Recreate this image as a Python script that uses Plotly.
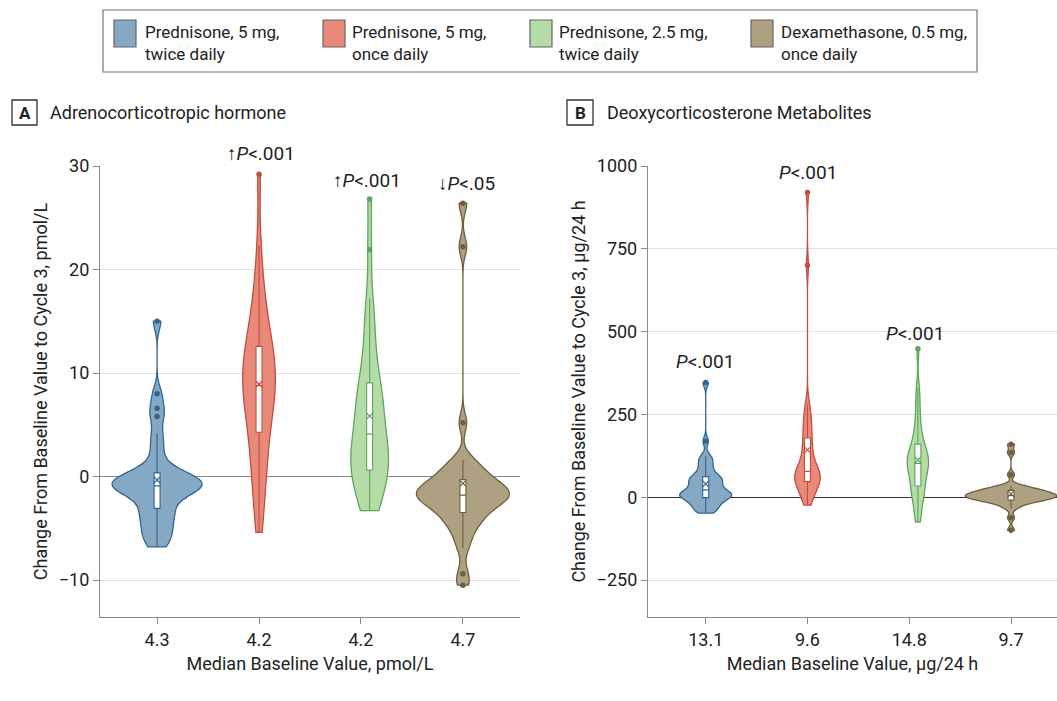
import numpy as np
import plotly.graph_objects as go

W, H = 1057, 701
FONT = "Roboto, 'Noto Sans', sans-serif"

# ---------------- data ----------------
group_names = ["Prednisone, 5 mg,<br>twice daily", "Prednisone, 5 mg,<br>once daily",
               "Prednisone, 2.5 mg,<br>twice daily", "Dexamethasone, 0.5 mg,<br>once daily"]
acth_ticklabels = ["4.3", "4.2", "4.2", "4.7"]
doc_ticklabels = ["13.1", "9.6", "14.8", "9.7"]

# Panel A: ACTH change, pmol/L
acth_pred5_bid = [-6.8, -6.2, -5.7, -5.2, -4.7, -4.2, -3.7, -3.3, -3.0, -2.4, -1.9, -1.6, -1.4, -1.2, -1.1,
                  -1.0, -0.9, -0.8, -0.7, -0.5, -0.3, -0.1, 0.1, 0.2, 0.2, 0.8, 1.8, 3.0, 4.2, 5.8, 6.6, 8.0, 15.0]
acth_pred5_qd = [-5.4, -3.5, -1.8, -0.5, 0.6, 1.6, 2.5, 3.3, 4.6, 5.2, 5.8, 6.4, 7.0, 7.5, 8.0, 8.5, 8.8,
                 9.3, 9.9, 10.4, 11.0, 11.4, 11.8, 12.1, 12.3, 13.4, 14.6, 15.3, 16.0, 17.5, 19.2, 22.3, 29.2]
acth_pred25_bid = [-3.3, -3.1, -2.5, -1.8, -1.0, -0.4, 0.0, 0.4, 0.7, 1.1, 1.5, 1.9, 2.3, 2.7, 3.1, 3.6, 4.1,
                   4.8, 5.4, 6.0, 6.6, 7.2, 7.8, 8.3, 8.8, 9.8, 11.0, 12.3, 13.8, 15.5, 17.2, 21.9, 26.8]
acth_dex = [-10.5, -9.4, -6.9, -5.8, -5.0, -4.5, -4.0, -3.7, -3.4, -3.0, -2.7, -2.5, -2.3, -2.1, -2.0, -1.9,
            -1.8, -1.6, -1.5, -1.3, -1.1, -0.9, -0.7, -0.5, -0.4, 0.0, 0.4, 0.8, 1.2, 1.6, 5.2, 22.2, 26.4]

# Panel B: deoxycorticosterone metabolites change, ug/24 h
doc_pred5_bid = [-48, -41, -34, -28, -22, -16, -10, -5, 0, 2, 4, 6, 8, 10, 13, 17, 22,
                 27, 32, 38, 44, 50, 54, 57, 60, 68, 78, 90, 102, 114, 124, 169, 346]
doc_pred5_qd = [-24, -10, 4, 14, 23, 31, 38, 44, 48, 52, 56, 60, 64, 68, 72, 75, 78,
                85, 95, 105, 118, 130, 145, 160, 175, 190, 205, 222, 240, 256, 280, 700, 920]
doc_pred25_bid = [-75, -55, -35, -15, 0, 10, 20, 28, 36, 48, 60, 70, 78, 85, 92, 97, 102,
                  108, 113, 118, 124, 132, 140, 148, 157, 170, 185, 205, 230, 260, 295, 330, 448]
doc_dex = [-100, -62, -34, -25, -18, -14, -11, -9, -8, -6, -4, -2, 0, 1, 3, 4, 5,
           7, 8, 10, 11, 13, 15, 17, 20, 22, 25, 28, 31, 34, 68, 135, 160]

# ---------------- style ----------------
fill_colors = ["#85a8c4", "#e8897a", "#b5dca6", "#ada182"]
line_colors = ["#33668f", "#c44d3e", "#5ea55e", "#6e5f3d"]
positions = [0, 1, 2.085, 3]
tick_positions = [0, 1, 2, 3]
PX_PER_CAT = 102.0
BOX_PX = 6.0


def px(x):
    return x / W


def py(y):
    return 1 - y / H


Y_DOM = [py(617), py(166)]

fig = go.Figure()

panels = [
    dict(data=[acth_pred5_bid, acth_pred5_qd, acth_pred25_bid, acth_dex], bw=[0.85, 2.6, 2.2, 0.9],
         widths=[0.88, 0.32, 0.37, 0.91], xa="x", ya="y"),
    dict(data=[doc_pred5_bid, doc_pred5_qd, doc_pred25_bid, doc_dex], bw=[13, 30, 30, 9],
         widths=[0.51, 0.25, 0.21, 0.9], xa="x2", ya="y2"),
]

for p in panels:
    for i, vals in enumerate(p["data"]):
        wdt = p["widths"][i]
        fig.add_trace(go.Violin(
            x=[positions[i]] * len(vals), y=vals, xaxis=p["xa"], yaxis=p["ya"],
            name=group_names[i].replace("<br>", " ") + " " + p["xa"], showlegend=False,
            fillcolor=fill_colors[i], opacity=1,
            line=dict(color=line_colors[i], width=1.3),
            spanmode="hard", bandwidth=p["bw"][i], width=wdt,
            scalemode="width",
            points="outliers", pointpos=0, jitter=0,
            marker=dict(color=line_colors[i], size=5.5, line=dict(width=0)),
            box=dict(visible=True, width=BOX_PX / (wdt * PX_PER_CAT), fillcolor="white",
                     line=dict(color=line_colors[i], width=1.1)),
            meanline=dict(visible=False),
        ))
        fig.add_trace(go.Scatter(
            x=[positions[i]], y=[float(np.mean(vals))], xaxis=p["xa"], yaxis=p["ya"],
            mode="markers", showlegend=False, hoverinfo="skip",
            marker=dict(symbol="x-thin", size=6, line=dict(color=line_colors[i], width=1.2)),
        ))

axis_common = dict(showline=True, linecolor="#8a8a8a", linewidth=1.3, ticks="outside", ticklen=6,
                   tickcolor="#8a8a8a", tickwidth=1.2, tickfont=dict(size=18, color="#222"),
                   automargin=False)

fig.update_layout(
    width=W, height=H, margin=dict(l=0, r=0, t=0, b=0),
    plot_bgcolor="white", paper_bgcolor="white",
    violinmode="overlay", showlegend=False,
    font=dict(family=FONT, size=18, color="#222"),
    xaxis=dict(domain=[px(100), px(520)], range=[-0.56, 3.56], tickvals=tick_positions,
               ticktext=acth_ticklabels, showgrid=False, zeroline=False, anchor="y",
               title=dict(text="Median Baseline Value, pmol/L", standoff=8, font=dict(size=18)),
               **axis_common),
    yaxis=dict(domain=Y_DOM, range=[-13.57, 30], tickvals=[-10, 0, 10, 20, 30], anchor="x",
               showgrid=True, gridcolor="#e1e1e1", gridwidth=1.2,
               zeroline=True, zerolinecolor="#8a8a8a", zerolinewidth=1.3,
               title=dict(text="Change From Baseline Value to Cycle 3, pmol/L", standoff=6,
                          font=dict(size=18)),
               **axis_common),
    xaxis2=dict(domain=[px(648), 1.0], range=[-0.567, 3.452], tickvals=tick_positions,
                ticktext=doc_ticklabels, showgrid=False, zeroline=False, anchor="y2",
                title=dict(text="Median Baseline Value, µg/24 h", standoff=8, font=dict(size=18)),
                **axis_common),
    yaxis2=dict(domain=Y_DOM, range=[-361.7, 1000], tickvals=[-250, 0, 250, 500, 750, 1000], anchor="x2",
                showgrid=True, gridcolor="#e1e1e1", gridwidth=1.2,
                zeroline=True, zerolinecolor="#333333", zerolinewidth=1.3,
                title=dict(text="Change From Baseline Value to Cycle 3, µg/24 h", standoff=6,
                           font=dict(size=18)),
                **axis_common),
)

shapes = []
annotations = []

# legend (drawn manually to match the boxed layout)
shapes.append(dict(type="rect", xref="paper", yref="paper", x0=px(103), x1=px(977), y0=py(72), y1=py(10),
                   line=dict(color="#777", width=1.2), fillcolor="white", layer="below"))
swatch_x = [114, 323, 530, 751]
text_x = [143, 350, 557, 779]
for i in range(4):
    shapes.append(dict(type="rect", xref="paper", yref="paper", x0=px(swatch_x[i]), x1=px(swatch_x[i] + 22),
                       y0=py(47), y1=py(20), line=dict(color="#666", width=1.2), fillcolor=fill_colors[i]))
    annotations.append(dict(xref="paper", yref="paper", x=px(text_x[i]), y=py(43), text=group_names[i],
                            showarrow=False, xanchor="left", yanchor="middle", align="left",
                            font=dict(size=17, color="#222")))

# panel labels
for (bx0, bx1, letter, tx, title) in [(12, 37, "A", 48, "Adrenocorticotropic hormone"),
                                      (567, 593, "B", 605, "Deoxycorticosterone Metabolites")]:
    shapes.append(dict(type="rect", xref="paper", yref="paper", x0=px(bx0), x1=px(bx1), y0=py(125), y1=py(100),
                       line=dict(color="#333", width=1.3), fillcolor="white"))
    annotations.append(dict(xref="paper", yref="paper", x=px((bx0 + bx1) / 2), y=py(112.5), text="<b>" + letter + "</b>",
                            showarrow=False, xanchor="center", yanchor="middle", font=dict(size=17, color="#222")))
    annotations.append(dict(xref="paper", yref="paper", x=px(tx), y=py(112.5), text=title,
                            showarrow=False, xanchor="left", yanchor="middle", font=dict(size=18, color="#222")))

# P-value labels (pixel positions above the violins)
p_labels = [(261, 153, "<b>↑</b><i>P</i>&lt;.001"), (367, 180, "<b>↑</b><i>P</i>&lt;.001"),
            (466, 183, "<b>↓</b><i>P</i>&lt;.05"),
            (705, 361, "<i>P</i>&lt;.001"), (808, 172, "<i>P</i>&lt;.001"), (915, 333, "<i>P</i>&lt;.001")]
for (x, y, t) in p_labels:
    annotations.append(dict(xref="paper", yref="paper", x=px(x), y=py(y), text=t, showarrow=False,
                            xanchor="center", yanchor="middle", font=dict(size=19, color="#222")))

fig.update_layout(shapes=shapes, annotations=annotations)
fig.write_html("out.html")
